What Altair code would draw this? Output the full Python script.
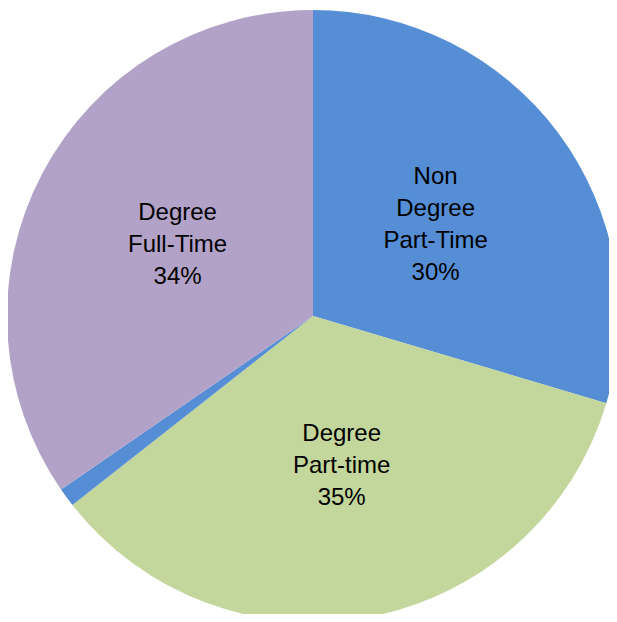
import altair as alt
import pandas as pd

categories = ["Non Degree Part-Time", "Degree Part-time", "Other", "Degree Full-Time"]
values = [29.6, 34.8, 1.0, 34.6]
labels = ["Non\nDegree\nPart-Time\n30%", "Degree\nPart-time\n35%", "", "Degree\nFull-Time\n34%"]
line_counts = [4, 3, 1, 3]
colors = ["#558ED5", "#C3D69B", "#558ED5", "#B3A2C7"]

line_h = 32

df = pd.DataFrame({
    "category": categories,
    "value": values,
    "label": labels,
    "color": colors,
    "idx": list(range(len(categories))),
    "lines": line_counts,
})

cx, cy, r = 305, 308, 306

base = alt.Chart(df).encode(
    theta=alt.Theta("value:Q", stack=True),
    order=alt.Order("idx:Q", sort="ascending"),
)

pie = base.mark_arc(outerRadius=r, stroke=None).encode(
    color=alt.Color("color:N", scale=None),
    x=alt.value(cx),
    y=alt.value(cy),
)

text4 = base.mark_text(
    radius=153,
    fontSize=24,
    font="Liberation Sans",
    lineBreak="\n",
    lineHeight=line_h,
    align="center",
    baseline="middle",
    color="#000000",
    dy=-1.5 * line_h,
).encode(
    text="label:N",
    x=alt.value(cx),
    y=alt.value(cy),
    opacity=alt.condition("datum.lines == 4", alt.value(1), alt.value(0)),
)

text3 = base.mark_text(
    radius=153,
    fontSize=24,
    font="Liberation Sans",
    lineBreak="\n",
    lineHeight=line_h,
    align="center",
    baseline="middle",
    color="#000000",
    dy=-1.0 * line_h,
).encode(
    text="label:N",
    x=alt.value(cx),
    y=alt.value(cy),
    opacity=alt.condition("datum.lines == 3", alt.value(1), alt.value(0)),
)

chart = alt.layer(pie, text4, text3).properties(
    width=601,
    height=606,
    padding=0,
    autosize=alt.AutoSizeParams(type="none"),
).configure_view(stroke=None)

chart.save("out.html", embed_options={"renderer": "svg", "actions": False})
